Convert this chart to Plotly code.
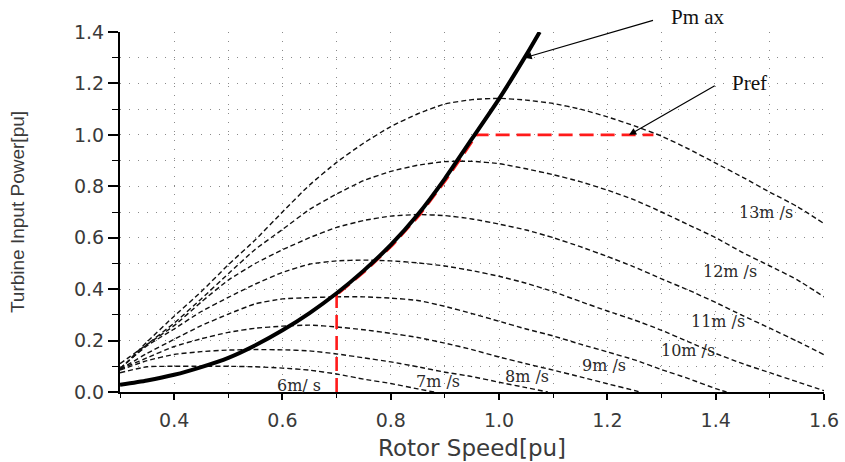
import numpy as np
import plotly.graph_objects as go

# ---- data -----------------------------------------------------------------
# rotor speed [pu] for the turbine power curves
speed_13 = [0.30, 0.35, 0.40, 0.45, 0.50, 0.55, 0.60, 0.65, 0.70, 0.75, 0.80, 0.85, 0.90, 0.95,
            1.00, 1.05, 1.10, 1.15, 1.20, 1.25, 1.30, 1.35, 1.40, 1.45, 1.50, 1.55, 1.60]
power_13 = [0.088, 0.195, 0.295, 0.39, 0.495, 0.592, 0.70, 0.805, 0.893, 0.968, 1.032, 1.082, 1.12, 1.137,
            1.142, 1.135, 1.122, 1.10, 1.07, 1.035, 0.995, 0.945, 0.89, 0.835, 0.777, 0.722, 0.655]

speed_12 = speed_13
power_12 = [0.09, 0.185, 0.268, 0.362, 0.46, 0.555, 0.632, 0.71, 0.77, 0.822, 0.858, 0.882, 0.896, 0.897,
            0.888, 0.868, 0.845, 0.818, 0.785, 0.747, 0.70, 0.65, 0.60, 0.542, 0.49, 0.437, 0.37]

speed_11 = speed_13
power_11 = [0.11, 0.185, 0.258, 0.35, 0.435, 0.50, 0.553, 0.60, 0.64, 0.667, 0.684, 0.69, 0.686, 0.673,
            0.653, 0.63, 0.60, 0.565, 0.527, 0.486, 0.44, 0.396, 0.348, 0.297, 0.248, 0.198, 0.145]

speed_10 = speed_13
power_10 = [0.092, 0.18, 0.245, 0.313, 0.368, 0.42, 0.465, 0.497, 0.51, 0.513, 0.51, 0.502, 0.49, 0.472,
            0.45, 0.423, 0.39, 0.352, 0.315, 0.28, 0.24, 0.195, 0.15, 0.11, 0.075, 0.04, 0.005]

speed_9 = [0.30, 0.35, 0.40, 0.45, 0.50, 0.55, 0.60, 0.65, 0.70, 0.75, 0.80, 0.85, 0.90, 0.95,
           1.00, 1.05, 1.10, 1.15, 1.20, 1.25, 1.30, 1.35, 1.40, 1.42]
power_9 = [0.088, 0.15, 0.205, 0.258, 0.303, 0.343, 0.362, 0.367, 0.37, 0.37, 0.365, 0.356, 0.333, 0.305,
           0.275, 0.245, 0.218, 0.186, 0.156, 0.125, 0.087, 0.052, 0.013, 0.0]

speed_8 = [0.30, 0.35, 0.40, 0.45, 0.50, 0.55, 0.60, 0.65, 0.70, 0.75, 0.80, 0.85, 0.90, 0.95,
           1.00, 1.05, 1.10, 1.15, 1.20, 1.25, 1.26]
power_8 = [0.088, 0.133, 0.177, 0.207, 0.232, 0.248, 0.256, 0.26, 0.253, 0.242, 0.228, 0.212, 0.19, 0.165,
           0.136, 0.11, 0.085, 0.059, 0.032, 0.006, 0.0]

speed_7 = [0.30, 0.35, 0.40, 0.45, 0.50, 0.55, 0.60, 0.65, 0.70, 0.75, 0.80, 0.85, 0.90, 0.95,
           1.00, 1.05, 1.09]
power_7 = [0.085, 0.122, 0.146, 0.157, 0.163, 0.165, 0.164, 0.16, 0.148, 0.133, 0.117, 0.098, 0.077, 0.06,
           0.038, 0.017, 0.0]

speed_6 = [0.30, 0.35, 0.40, 0.45, 0.50, 0.55, 0.60, 0.65, 0.70, 0.75, 0.80, 0.85, 0.88]
power_6 = [0.075, 0.098, 0.10, 0.10, 0.10, 0.098, 0.093, 0.085, 0.07, 0.05, 0.033, 0.012, 0.0]

wind_labels = ["13m /s", "12m /s", "11m /s", "10m /s", "9m /s", "8m /s", "7m /s", "6m/ s"]
label_speed = [1.493, 1.427, 1.404, 1.348, 1.193, 1.052, 0.887, 0.63]
label_power = [0.70, 0.468, 0.273, 0.163, 0.105, 0.06, 0.04, 0.027]

# maximum power point trajectory
pmax_speed = [0.30, 0.35, 0.40, 0.45, 0.50, 0.55, 0.60, 0.65, 0.70, 0.75, 0.80, 0.85, 0.90, 0.95,
              1.00, 1.05, 1.075]
pmax_power = [0.028, 0.045, 0.067, 0.097, 0.133, 0.182, 0.24, 0.307, 0.384, 0.472, 0.572, 0.69, 0.83, 0.985,
              1.14, 1.31, 1.40]

# operating path: start speed, reference power, end speed of the limit line
start_speed = 0.70
p_ref = 1.0
ref_end_speed = 1.285

# annotation anchors (speed, power)
pmax_arrow_speed = 1.047
pmax_text = "Pm ax"
pmax_text_pos = (1.368, 1.458)
pmax_tail = (1.287, 1.447)
pref_text = "Pref"
pref_arrow_head = (1.24, 1.0)
pref_text_pos = (1.462, 1.202)
pref_tail = (1.401, 1.194)

x_range = [0.3, 1.6]
y_range = [0.0, 1.4]

# ---- styles ---------------------------------------------------------------
CURVE_COLOR = "#111111"
CURVE_DASH = "5px,3px"
GRID = dict(gridcolor="#8a8a8a", gridwidth=1, griddash="1px,8px")
TICK_FONT = dict(family="DejaVu Sans", size=19, color="#3a3a3a")
LABEL_FONT = dict(family="DejaVu Serif", size=16, color="#2a2a2a")
NOTE_FONT = dict(family="Liberation Serif", size=21, color="#111111")
RED = "#ff1a1a"
red_offset = 0.004

fig = go.Figure()

curves = [(speed_13, power_13), (speed_12, power_12), (speed_11, power_11), (speed_10, power_10),
          (speed_9, power_9), (speed_8, power_8), (speed_7, power_7), (speed_6, power_6)]
for (sx, py), name in zip(curves, wind_labels):
    fig.add_trace(go.Scatter(x=sx, y=py, mode="lines", name=name, showlegend=False,
                             line=dict(color=CURVE_COLOR, width=1.4, dash=CURVE_DASH, shape="spline",
                                       smoothing=0.5)))

# red operating path: vertical at start speed, along Pmax, horizontal at Pref
pm_x = np.array(pmax_speed)
pm_y = np.array(pmax_power)
p_start = float(np.interp(start_speed, pm_x, pm_y))
speed_at_ref = float(np.interp(p_ref, pm_y, pm_x))
red_dash = dict(color=RED, width=2.6, dash="14px,7px")

fig.add_trace(go.Scatter(x=[start_speed, start_speed], y=[0, p_start], mode="lines",
                         line=red_dash, showlegend=False))
seg = (pm_x > start_speed) & (pm_x < speed_at_ref)
track_x = np.concatenate([[start_speed], pm_x[seg], [speed_at_ref]]) + red_offset
track_y = np.concatenate([[p_start], pm_y[seg], [p_ref]])
fig.add_trace(go.Scatter(x=track_x, y=track_y, mode="lines", line=red_dash, showlegend=False))
fig.add_trace(go.Scatter(x=[speed_at_ref, ref_end_speed], y=[p_ref, p_ref], mode="lines",
                         line=red_dash, showlegend=False))

# maximum power curve
fig.add_trace(go.Scatter(x=pmax_speed, y=pmax_power, mode="lines", showlegend=False,
                         line=dict(color="black", width=4, shape="spline", smoothing=0.6)))

annotations = []
for txt, lx, ly in zip(wind_labels, label_speed, label_power):
    annotations.append(dict(x=lx, y=ly, xref="x", yref="y", text=txt, showarrow=False,
                            xanchor="center", yanchor="middle", font=LABEL_FONT))


def paper_y(p):
    return (p - y_range[0]) / (y_range[1] - y_range[0])


pmax_arrow_power = float(np.interp(pmax_arrow_speed, pm_x, pm_y))
annotations.append(dict(x=pmax_arrow_speed, y=pmax_arrow_power, ax=pmax_tail[0], ay=pmax_tail[1],
                        xref="x", yref="y", axref="x", ayref="y", text="", showarrow=True,
                        arrowhead=2, arrowsize=1.2, arrowwidth=1.2, arrowcolor="black"))
annotations.append(dict(x=pmax_text_pos[0], y=paper_y(pmax_text_pos[1]), xref="x", yref="paper",
                        text=pmax_text, showarrow=False, xanchor="center", yanchor="middle",
                        font=NOTE_FONT))
annotations.append(dict(x=pref_arrow_head[0], y=pref_arrow_head[1], ax=pref_tail[0], ay=pref_tail[1],
                        xref="x", yref="y", axref="x", ayref="y", text="", showarrow=True,
                        arrowhead=2, arrowsize=1.2, arrowwidth=1.2, arrowcolor="black"))
annotations.append(dict(x=pref_text_pos[0], y=pref_text_pos[1], xref="x", yref="y", text=pref_text,
                        showarrow=False, xanchor="center", yanchor="middle", font=NOTE_FONT))

fig.update_layout(
    width=845, height=462, autosize=False,
    margin=dict(l=120, r=21, t=32, b=70),
    paper_bgcolor="white", plot_bgcolor="white",
    annotations=annotations,
    xaxis=dict(range=x_range, tick0=0.4, dtick=0.2, tickformat=".1f", automargin=False,
               showline=True, linecolor="black", linewidth=2, zeroline=False,
               ticks="outside", ticklen=6, tickwidth=1.5, tickcolor="black",
               tickfont=TICK_FONT, ticklabelstandoff=4, showgrid=True, **GRID,
               minor=dict(dtick=0.1, tick0=0.3, ticks="outside", ticklen=4, tickwidth=1.2,
                          tickcolor="black", showgrid=True, **GRID),
               title=dict(text="Rotor Speed[pu]", standoff=10,
                          font=dict(family="DejaVu Sans", size=23, color="#3a3a3a"))),
    yaxis=dict(range=y_range, tick0=0, dtick=0.2, tickformat=".1f", automargin=False,
               showline=True, linecolor="black", linewidth=2, zeroline=False,
               ticks="outside", ticklen=10, tickwidth=1.5, tickcolor="black",
               tickfont=TICK_FONT, showgrid=True, **GRID,
               minor=dict(dtick=0.1, tick0=0, ticks="outside", ticklen=6, tickwidth=1.2,
                          tickcolor="black", showgrid=True, **GRID),
               title=dict(text="Turbine Input Power[pu]", standoff=44,
                          font=dict(family="Liberation Sans", size=19, color="#3a3a3a"))),
)

fig.write_html("out.html")
